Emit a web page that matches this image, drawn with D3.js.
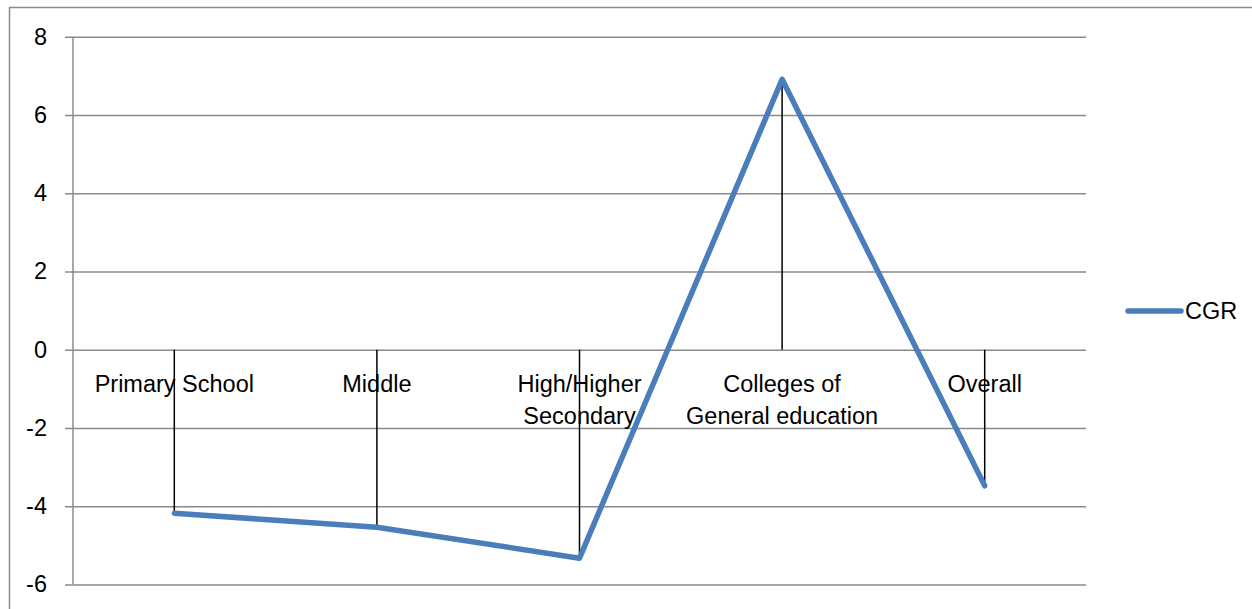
<!DOCTYPE html>
<html>
<head>
<meta charset="utf-8">
<script src="https://cdn.jsdelivr.net/npm/d3@7"></script>
<style>
  html, body { margin: 0; padding: 0; background: #fff; }
  svg { display: block; }
  text { font-family: "Liberation Sans", Arial, sans-serif; fill: #000; }
</style>
</head>
<body>
<svg id="chart" width="1252" height="609"></svg>
<script>
// Compound growth rate of enrolment by level of education
const categories = ["Primary School", "Middle", "High/Higher Secondary", "Colleges of General education", "Overall"];
const categoryLines = [["Primary School"], ["Middle"], ["High/Higher", "Secondary"], ["Colleges of", "General education"], ["Overall"]];
const cgrValues = [-4.18, -4.54, -5.33, 6.91, -3.48];
const yTicks = [-6, -4, -2, 0, 2, 4, 6, 8];
const seriesName = "CGR";

const svg = d3.select("#chart");
const W = 1252, H = 609;

const plot = { left: 73, right: 1086, top: 36.7, bottom: 584.4 };
const lineColor = "#4a7ebb";
const gridColor = "#8a8a8a";
const fontSize = 23.5;

// outer frame
svg.append("rect")
  .attr("x", 9.5).attr("y", 7.5)
  .attr("width", W + 10).attr("height", H + 10)
  .attr("fill", "none").attr("stroke", gridColor).attr("stroke-width", 1.5);

const x = d3.scaleBand().domain(categories).range([plot.left, plot.right]).padding(0);
const y = d3.scaleLinear().domain([-6, 8]).range([plot.bottom, plot.top]);
const cx = d => x(d) + x.bandwidth() / 2;

// horizontal gridlines (extending past the axis as tick marks) and labels
const yAxis = d3.axisLeft(y)
  .tickValues(yTicks)
  .tickSize(plot.right - plot.left + 8)
  .tickPadding(18)
  .tickFormat(d => d < 0 ? "-" + Math.abs(d) : String(d));

const gy = svg.append("g")
  .attr("transform", `translate(${plot.right},0)`)
  .call(yAxis);
gy.select(".domain").remove();
gy.selectAll(".tick line")
  .attr("stroke", gridColor).attr("stroke-width", 1.5);
gy.selectAll(".tick text")
  .style("font-size", fontSize + "px")
  .style("font-family", "'Liberation Sans', Arial, sans-serif")
  .attr("fill", "#000");

// vertical axis line
svg.append("line")
  .attr("x1", plot.left).attr("x2", plot.left)
  .attr("y1", y(8)).attr("y2", y(-6))
  .attr("stroke", gridColor).attr("stroke-width", 1.5);

// drop lines from zero to each value
svg.append("g").selectAll("line")
  .data(categories)
  .join("line")
  .attr("x1", d => cx(d)).attr("x2", d => cx(d))
  .attr("y1", y(0))
  .attr("y2", (d, i) => y(cgrValues[i]))
  .attr("stroke", "#000").attr("stroke-width", 1.5);

// category labels sitting just below the zero line
const labels = svg.append("g").selectAll("text")
  .data(categories)
  .join("text")
  .attr("x", d => cx(d))
  .attr("y", y(0) + 42)
  .attr("text-anchor", "middle")
  .style("font-size", fontSize + "px");
labels.each(function(d, i) {
  d3.select(this).selectAll("tspan")
    .data(categoryLines[i])
    .join("tspan")
    .attr("x", cx(d))
    .attr("dy", (t, j) => j === 0 ? 0 : 32)
    .text(t => t);
});

// CGR series line
const line = d3.line()
  .x((d, i) => cx(categories[i]))
  .y(d => y(d));
svg.append("path")
  .datum(cgrValues)
  .attr("d", line)
  .attr("fill", "none")
  .attr("stroke", lineColor)
  .attr("stroke-width", 5.5)
  .attr("stroke-linejoin", "round")
  .attr("stroke-linecap", "round");

// legend
const lg = svg.append("g").attr("transform", "translate(1127,311)");
lg.append("line")
  .attr("x1", 1).attr("x2", 54).attr("y1", 0).attr("y2", 0)
  .attr("stroke", lineColor).attr("stroke-width", 5.5).attr("stroke-linecap", "round");
lg.append("text")
  .attr("x", 58).attr("y", 0).attr("dy", "0.35em")
  .style("font-size", fontSize + "px")
  .text(seriesName);
</script>
</body>
</html>
